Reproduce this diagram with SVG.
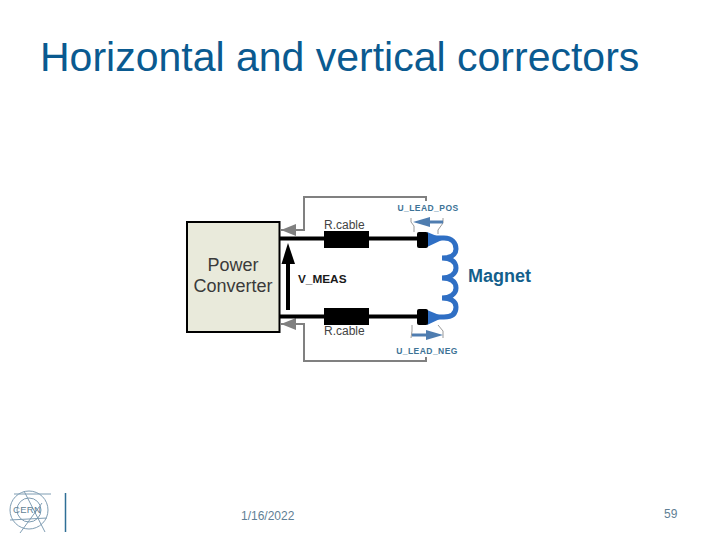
<svg xmlns="http://www.w3.org/2000/svg" width="720" height="540" viewBox="0 0 720 540">
<style>
text{font-family:"Liberation Sans",Arial,sans-serif}
.title{font-size:41px;fill:#0a5a90}
.foot{font-size:12px;fill:#5f7f95}
.pc{font-size:18px;fill:#3a3a3a;text-anchor:middle}
.r{font-size:12px;fill:#444}
.lead{font-size:8.5px;fill:#3d7396;font-weight:bold;text-anchor:middle;letter-spacing:.45px}
.g{fill:none;stroke:#808080;stroke-width:2}
.w{fill:none;stroke:#000;stroke-width:4}
.thin{fill:none;stroke:#9a9a9a;stroke-width:1}
.logo{fill:none;stroke:#7f9db3;stroke-width:1}
</style>
<defs>
<marker id="ga" markerUnits="userSpaceOnUse" markerWidth="16" markerHeight="12" refX="15" refY="6" orient="auto"><path d="M0 0L15 6L0 12Z" fill="#808080"/></marker>
</defs>
<text class="title" x="40" y="71">Horizontal and vertical correctors</text>
<g id="connectors">
<path class="g" d="M426 201V197H304V230H281" marker-end="url(#ga)"/>
<path class="g" d="M426 357V361H304V324H281" marker-end="url(#ga)"/>
<path class="w" d="M280 238.500H418"/>
<path class="w" d="M280 316.500H418"/>
<path class="w" d="M288 310V262"/>
<path d="M281.500 264L288 243L295 264Z" fill="#000"/>
<path class="thin" d="M411 218V222L414 226V232M443 218V223L438 230V234"/>
<path class="thin" d="M412 325V331L411 338M443 338V331L438 325"/>
<path d="M443 222H423" stroke="#4f7db0" stroke-width="3" fill="none"/>
<path d="M430 217L413 222L430 227Z" fill="#4f7db0"/>
<path d="M412 335H432" stroke="#4f7db0" stroke-width="3" fill="none"/>
<path d="M426 330L443 335L426 340Z" fill="#4f7db0"/>
</g>
<g id="power-converter">
<rect x="187" y="222" width="92.500" height="110" fill="#e9eadb" stroke="#000" stroke-width="2"/>
<text class="pc" x="233" y="271">Power</text>
<text class="pc" x="233" y="292">Converter</text>
</g>
<g id="v-meas"><text x="298" y="283" font-size="11.800" font-weight="bold" fill="#1a1a1a">V_MEAS</text></g>
<g id="r-cable-top">
<rect x="324" y="231" width="45" height="17" fill="#000"/>
<text class="r" x="324" y="229">R.cable</text>
</g>
<g id="r-cable-bottom">
<rect x="324" y="308" width="45" height="17" fill="#000"/>
<text class="r" x="324" y="335">R.cable</text>
</g>
<g id="magnet">
<path d="M430 238H444C452 238 456 243 456 249C456 255 450 258 442 258C450 258 456 261 456 268C456 274 450 278 442 278C450 278 456 281 456 288C456 294 450 298 442 298C450 298 456 301 456 307C456 314 452 317 444 317H430" fill="none" stroke="#2f6fc4" stroke-width="5"/>
<path d="M427 232L444 239L427 247Z" fill="#2f6fc4"/>
<path d="M427 310L444 317L427 325Z" fill="#2f6fc4"/>
<rect x="417" y="232" width="11" height="16" rx="2" fill="#000"/>
<rect x="417" y="309" width="11" height="16" rx="2" fill="#000"/>
<text x="468" y="282" font-size="18" font-weight="bold" fill="#135f8c">Magnet</text>
</g>
<g id="lead-labels">
<text class="lead" x="428" y="211">U_LEAD_POS</text>
<text class="lead" x="427" y="354">U_LEAD_NEG</text>
</g>
<g id="footer">
<g class="logo">
<circle cx="29" cy="510" r="19"/>
<circle cx="29" cy="510" r="12"/>
<path d="M14 494H51M24 491L45 532M20 533L42 503M10 520L47 518"/>
</g>
<text x="13" y="513" font-size="9.500" fill="#5f7f95" letter-spacing=".3">CERN</text>
<path d="M65.500 493V532" stroke="#2f6f96" stroke-width="1.500"/>
<text class="foot" x="241" y="520">1/16/2022</text>
<text class="foot" x="664" y="518">59</text>
</g>
</svg>
